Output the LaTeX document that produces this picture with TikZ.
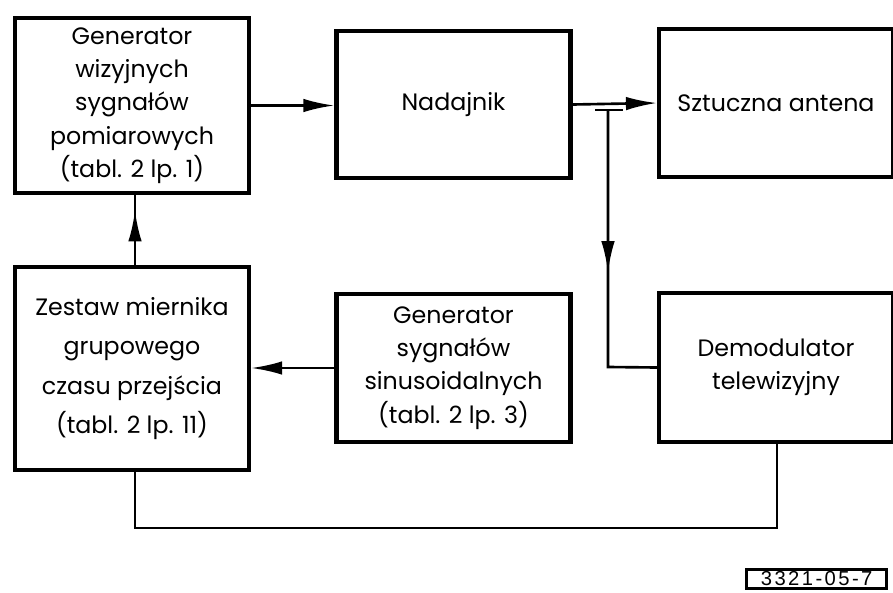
\documentclass[tikz,border=0pt]{standalone}
\usepackage{fontspec}
\setmainfont{Poppins}
\newfontfamily\tagfont[LetterSpace=12]{Liberation Sans}
\usetikzlibrary{arrows.meta,decorations.markings}
\begin{document}
\begin{tikzpicture}[x=0.02cm,y=-0.02cm]
      \tikzstyle{block}=[draw,line width=2.4pt,align=center,inner sep=0pt,
        minimum width=4.68cm,font=\fontsize{13.5}{19}\selectfont]
      \tikzstyle{conn}=[draw,line width=1.5pt]
      \tikzstyle{tip}=[-{Latex[length=0.62cm,width=0.27cm]}]
      \tikzstyle{midtip}=[postaction={decorate},decoration={markings,
        mark=at position #1 with {\arrow{Latex[length=0.62cm,width=0.27cm]}}}]
      \useasboundingbox (0,0) rectangle (893,592);
      % upper row
      \node[block,minimum height=3.5cm] (gen) at (132,105.5)
        {Generator\\wizyjnych\\sygnałów\\pomiarowych\\(tabl. 2 lp. 1)};
      \node[block,minimum height=2.94cm] (tx) at (453.5,104.5) {Nadajnik};
      \node[block,minimum height=2.96cm] (ant) at (776,103) {Sztuczna antena};
      % lower row
      \node[block,minimum height=4.06cm,font=\fontsize{13.5}{22.5}\selectfont] (zes) at (132,368.5)
        {Zestaw miernika\\grupowego\\czasu przejścia\\(tabl. 2 lp. 11)};
      \node[block,minimum height=2.96cm] (sin) at (453.5,368)
        {Generator\\sygnałów\\sinusoidalnych\\(tabl. 2 lp. 3)};
      \node[block,minimum height=2.98cm] (dem) at (776,367.5)
        {Demodulator\\telewizyjny};
      % tap on the transmitter output
      \coordinate (tap) at (608,110);
      \coordinate (tapl) at (595,110);
      \coordinate (tapr) at (623,110);
      \coordinate (bend) at (608,367);
      \coordinate (zb) at (135,528);
      \coordinate (db) at (777,528);
      \path[conn,tip] (gen.east) -- (gen.east -| tx.west);
      \path[conn,tip] (tx.east) -- (ant.west);
      \path[conn] (tapl) -- (tapr);
      \path[conn,midtip=0.53] (tap) -- (bend) -- (dem.west);
      \path[conn,tip] (sin.west) -- (sin.west -| zes.east);
      \path[conn,midtip=0.78] (zes.north -| zb) -- (gen.south -| zb);
      \path[conn] (zes.south -| zb) -- (zb) -- (db) -- (dem.south -| db);
      % drawing number
      \node[draw,line width=1.5pt,inner sep=0pt,minimum width=2.8cm,minimum height=0.39cm,
        font=\tagfont\fontsize{11.5}{11.5}\selectfont,anchor=south east] (tag) at (888,590) {3321-05-7};
    \end{tikzpicture}
\end{document}
